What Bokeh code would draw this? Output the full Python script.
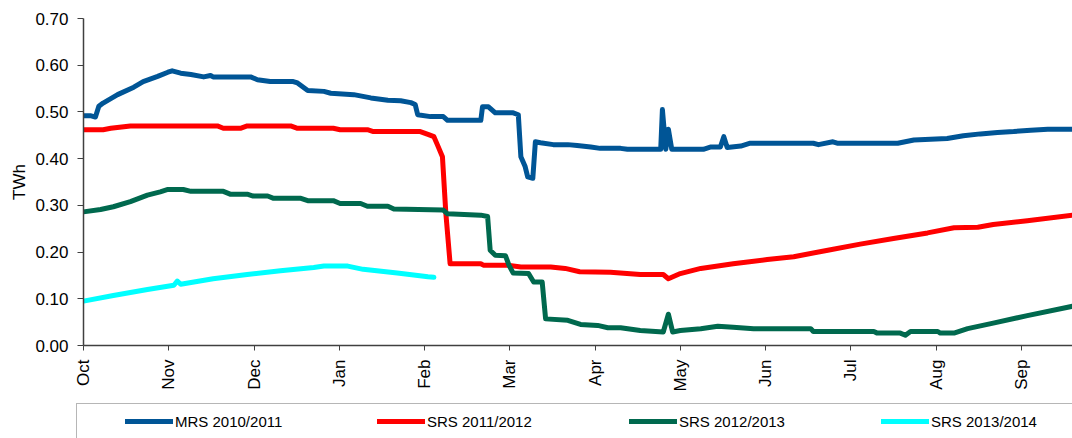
import math
from bokeh.plotting import figure
from bokeh.layouts import column, row
from bokeh.models import Range1d, FixedTicker, Legend, LegendItem, NumeralTickFormatter
from bokeh.embed import file_html
from bokeh.resources import INLINE

# Month tick labels (season Oct -> Sep); x values are months since 1 Oct
months = ["Oct", "Nov", "Dec", "Jan", "Feb", "Mar", "Apr", "May", "Jun", "Jul", "Aug", "Sep"]
month_pos = list(range(len(months)))

# MRS 2010/2011
mrs_t = [0.00, 0.08, 0.14, 0.18, 0.23, 0.40, 0.59, 0.70, 0.87, 0.99, 1.04, 1.14, 1.26, 1.41, 1.49,
         1.52, 1.96, 2.04, 2.19, 2.46, 2.51, 2.63, 2.82, 2.90, 3.17, 3.37, 3.57, 3.72, 3.84, 3.89,
         3.92, 4.07, 4.22, 4.27, 4.66, 4.68, 4.75, 4.83, 5.04, 5.10, 5.13, 5.18, 5.21, 5.27, 5.30,
         5.36, 5.51, 5.68, 5.79, 5.95, 6.06, 6.30, 6.38, 6.77, 6.79, 6.83, 6.86, 6.90, 7.27, 7.36,
         7.47, 7.51, 7.55, 7.71, 7.82, 8.56, 8.62, 8.79, 8.84, 9.55, 9.74, 10.13, 10.32, 10.52,
         10.72, 10.91, 11.11, 11.31, 11.60]
mrs_v = [0.492, 0.492, 0.489, 0.512, 0.519, 0.537, 0.553, 0.565, 0.576, 0.585, 0.588, 0.583, 0.580,
         0.575, 0.578, 0.575, 0.575, 0.569, 0.565, 0.565, 0.562, 0.546, 0.544, 0.540, 0.537, 0.530,
         0.525, 0.524, 0.520, 0.516, 0.494, 0.490, 0.490, 0.482, 0.482, 0.511, 0.511, 0.498, 0.498,
         0.494, 0.404, 0.383, 0.361, 0.358, 0.436, 0.434, 0.430, 0.430, 0.428, 0.425, 0.422, 0.422,
         0.420, 0.420, 0.505, 0.420, 0.463, 0.420, 0.420, 0.425, 0.425, 0.447, 0.424, 0.427, 0.433,
         0.433, 0.430, 0.436, 0.433, 0.433, 0.440, 0.443, 0.449, 0.453, 0.456, 0.458, 0.461, 0.463,
         0.463]

# SRS 2011/2012
srs1_t = [0.00, 0.23, 0.32, 0.55, 1.57, 1.64, 1.84, 1.92, 2.43, 2.51, 2.93, 3.01, 3.33, 3.40, 3.95,
          4.04, 4.11, 4.15, 4.21, 4.25, 4.30, 4.66, 4.69, 4.97, 5.13, 5.48, 5.65, 5.82, 6.18, 6.53,
          6.80, 6.86, 7.00, 7.24, 7.62, 8.02, 8.33, 8.73, 9.11, 9.50, 9.90, 10.21, 10.49, 10.67,
          11.07, 11.60]
srs1_v = [0.462, 0.462, 0.465, 0.470, 0.470, 0.465, 0.465, 0.470, 0.470, 0.465, 0.465, 0.462, 0.462,
          0.458, 0.458, 0.452, 0.447, 0.430, 0.404, 0.283, 0.175, 0.175, 0.172, 0.172, 0.168, 0.168,
          0.165, 0.158, 0.157, 0.152, 0.152, 0.143, 0.154, 0.165, 0.175, 0.184, 0.190, 0.204, 0.217,
          0.229, 0.241, 0.252, 0.253, 0.259, 0.267, 0.279]

# SRS 2012/2013
srs2_t = [0.00, 0.20, 0.35, 0.55, 0.75, 0.90, 0.99, 1.17, 1.26, 1.64, 1.72, 1.92, 1.99, 2.16, 2.23,
          2.55, 2.63, 2.93, 3.01, 3.25, 3.33, 3.57, 3.64, 4.22, 4.27, 4.66, 4.74, 4.77, 4.83, 4.95,
          4.99, 5.04, 5.22, 5.28, 5.38, 5.42, 5.68, 5.83, 6.03, 6.15, 6.30, 6.53, 6.80, 6.86, 6.91,
          7.00, 7.24, 7.44, 7.62, 7.86, 8.53, 8.56, 9.27, 9.31, 9.58, 9.64, 9.70, 10.02, 10.05,
          10.21, 10.37, 10.67, 11.07, 11.60]
srs2_v = [0.286, 0.291, 0.297, 0.308, 0.322, 0.329, 0.334, 0.334, 0.330, 0.330, 0.324, 0.324, 0.320,
          0.320, 0.315, 0.315, 0.310, 0.310, 0.304, 0.304, 0.298, 0.298, 0.292, 0.290, 0.282, 0.279,
          0.276, 0.204, 0.193, 0.192, 0.172, 0.155, 0.154, 0.136, 0.136, 0.057, 0.054, 0.045, 0.043,
          0.038, 0.038, 0.032, 0.029, 0.067, 0.029, 0.032, 0.036, 0.041, 0.039, 0.036, 0.036, 0.030,
          0.030, 0.0265, 0.0265, 0.022, 0.030, 0.030, 0.0265, 0.0265, 0.036, 0.048, 0.064, 0.084]

# SRS 2013/2014
srs3_t = [0.00, 0.35, 0.75, 1.06, 1.10, 1.14, 1.52, 1.92, 2.31, 2.70, 2.82, 3.10, 3.28, 3.68, 4.04, 4.11]
srs3_v = [0.095, 0.107, 0.120, 0.129, 0.138, 0.131, 0.143, 0.152, 0.160, 0.167, 0.170, 0.170, 0.163,
          0.155, 0.147, 0.146]

series_names = ["MRS 2010/2011", "SRS 2011/2012", "SRS 2012/2013", "SRS 2013/2014"]
series_colors = ["#005596", "#FF0000", "#00694E", "#00FFFF"]

y_ticks = [0.0, 0.1, 0.2, 0.3, 0.4, 0.5, 0.6, 0.7]

FONT = "Liberation Sans"
LW = 5

p = figure(width=1072, height=395, output_backend="svg", toolbar_location=None,
           x_range=Range1d(0, 11.6), y_range=Range1d(0, 0.70),
           min_border_left=83, min_border_right=0, min_border_top=18, min_border_bottom=50)
p.outline_line_color = None
p.grid.visible = False

series = [(mrs_t, mrs_v), (srs1_t, srs1_v), (srs2_t, srs2_v), (srs3_t, srs3_v)]
for (t, v), col in zip(series, series_colors):
    p.line(t, v, line_color=col, line_width=LW, line_join="round", line_cap="round")

# axes
p.xaxis.ticker = FixedTicker(ticks=month_pos)
p.xaxis.major_label_overrides = {i: m for i, m in zip(month_pos, months)}
p.xaxis.major_label_orientation = math.pi / 2
p.xaxis.minor_tick_line_color = None
p.xaxis.major_tick_in = 0
p.xaxis.major_tick_out = 5
p.xaxis.major_label_standoff = 9
p.xaxis.major_label_text_font = FONT
p.xaxis.major_label_text_font_size = "17px"
p.xaxis.major_label_text_color = "#000000"
p.xaxis.axis_line_color = "#404040"
p.xaxis.axis_line_width = 1.5
p.xaxis.major_tick_line_color = "#404040"

p.yaxis.ticker = FixedTicker(ticks=y_ticks)
p.yaxis.formatter = NumeralTickFormatter(format="0.00")
p.yaxis.minor_tick_line_color = None
p.yaxis.major_tick_in = 0
p.yaxis.major_tick_out = 6
p.yaxis.major_label_standoff = 9
p.yaxis.major_label_text_font = FONT
p.yaxis.major_label_text_font_size = "17px"
p.yaxis.major_label_text_color = "#000000"
p.yaxis.axis_line_color = "#404040"
p.yaxis.axis_line_width = 1.5
p.yaxis.major_tick_line_color = "#404040"
p.yaxis.axis_label = "TWh"
p.yaxis.axis_label_text_font = FONT
p.yaxis.axis_label_text_font_size = "17px"
p.yaxis.axis_label_text_font_style = "normal"
p.yaxis.axis_label_text_color = "#000000"
p.yaxis.axis_label_standoff = 3

# legend strip below the chart (legend-only renderers with no visible data)
lg = figure(width=1072, height=43, output_backend="svg", toolbar_location=None,
            x_range=Range1d(0, 1), y_range=Range1d(0, 1),
            x_axis_location=None, y_axis_location=None, min_border=0)
lg.outline_line_color = None
lg.grid.visible = False
nan = float("nan")
leg_renderers = [lg.line([nan], [nan], line_color=c, line_width=LW, line_cap="round") for c in series_colors]

legend = Legend(items=[LegendItem(label=n, renderers=[r]) for n, r in zip(series_names, leg_renderers)],
                orientation="horizontal", location=(76, -1),
                glyph_width=48, glyph_height=22, label_height=22, label_width=150,
                label_standoff=2, spacing=52, padding=6, margin=0,
                title=" ", title_location="left", title_standoff=27,
                label_text_font=FONT, label_text_font_size="15px", label_text_color="#000000",
                border_line_color="#6E6E6E", border_line_width=1.5,
                background_fill_alpha=0)
lg.add_layout(legend, "center")

layout = column(p, row(lg, spacing=0), spacing=0)
open("out.html", "w").write(file_html(layout, INLINE))
